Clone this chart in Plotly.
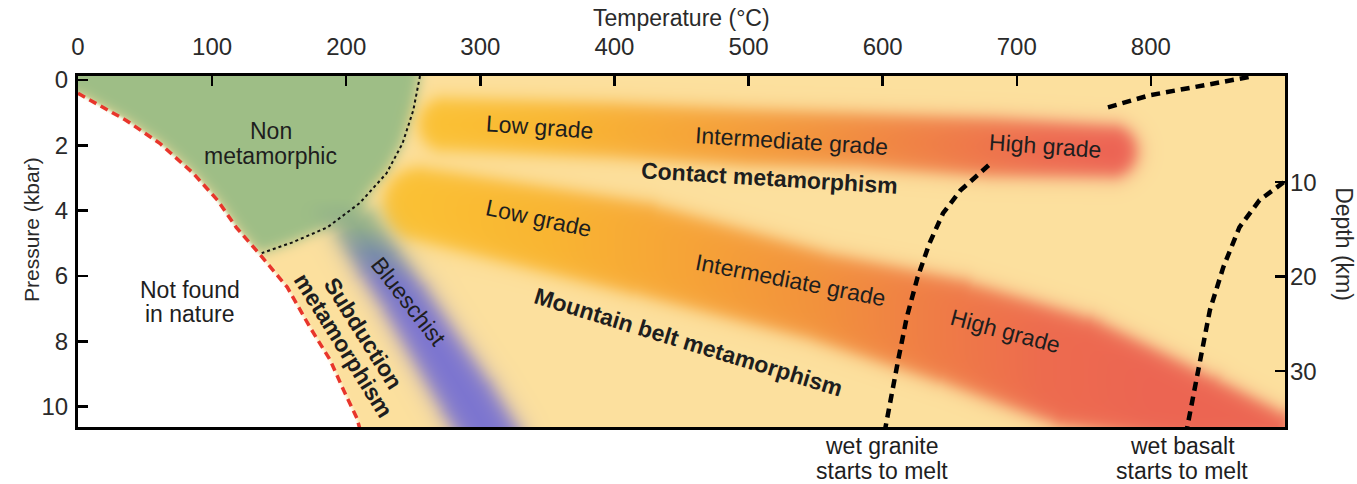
import base64
import struct
import zlib

import numpy as np
import plotly.graph_objects as go

# ------------------------------------------------------------------ data ----
T_MIN, T_MAX = 0, 900            # temperature axis (°C)
P_TOP, P_BOTTOM = -0.12, 10.62   # pressure axis (kbar), drawn downwards
temp_ticks = [0, 100, 200, 300, 400, 500, 600, 700, 800]
pressure_ticks = [0, 2, 4, 6, 8, 10]
depth_ticks = [10, 20, 30]
km_per_kbar = 3.46
depth_at_zero_kbar = -0.83

# boundary of the "not found in nature" field (red dashed)
limit_T = [0, 9, 36, 61, 86, 104, 118, 136, 156, 173, 188, 198, 208, 210]
limit_P = [0.41, 0.62, 1.24, 1.94, 2.86, 3.68, 4.51, 5.36, 6.34, 7.57, 8.57, 9.49, 10.35, 10.65]

# boundary of the non-metamorphic field (black dotted)
nonmeta_T = [255, 250, 242, 230, 210, 186, 160, 137]
nonmeta_P = [-0.12, 0.93, 1.94, 2.86, 3.77, 4.51, 4.97, 5.30]

# wet granite / wet basalt solidus and upper-right melting curve
granite_T = [679, 658, 645, 635, 626, 618, 612, 606, 602]
granite_P = [2.61, 3.38, 4.08, 4.99, 6.04, 7.26, 8.48, 9.71, 10.65]
basalt_T = [899, 881, 866, 854, 844, 837, 831, 827]
basalt_P = [3.13, 3.68, 4.51, 5.73, 7.04, 8.48, 9.71, 10.65]
upper_T = [768, 799, 831, 876]
upper_P = [0.84, 0.47, 0.23, -0.11]

# metamorphic facies bands (centre line + half thickness)
contact_T = [274, 399, 499, 583, 682, 770]
contact_P = [1.36, 1.54, 1.76, 1.85, 2.06, 2.18]
contact_halfwidth_kbar = [0.80, 0.83, 0.86, 0.83, 0.89, 0.80]

mountain_T = [255, 419, 553, 650, 744, 837, 893]
mountain_P = [3.80, 5.15, 6.62, 7.66, 8.94, 10.10, 10.56]
mountain_halfwidth_kbar = [1.13, 1.44, 1.38, 1.65, 1.80, 1.13, 0.46]

blueschist_T = [192, 209, 225, 244, 264, 290, 309]
blueschist_P = [3.68, 4.54, 5.58, 6.74, 8.05, 9.74, 11.02]
blueschist_halfwidth_C = [19.4, 19.4, 20.1, 20.9, 22.4, 24.6, 24.6]

# labels inside the diagram
label_text = ["Non", "metamorphic", "Not found", "in nature",
              "Subduction", "metamorphism", "Blueschist",
              "Low grade", "Intermediate grade", "High grade", "Contact metamorphism",
              "Low grade", "Intermediate grade", "High grade", "Mountain belt metamorphism"]
label_T = [143.9, 143.9, 83.5, 83.5,
           212.5, 197.6, 246.1,
           343.8, 531.7, 721.1, 515.3,
           343.0, 530.9, 691.3, 454.9]
label_P = [1.57, 2.34, 6.43, 7.17,
           7.75, 8.12, 6.77,
           1.45, 1.88, 2.03, 3.01,
           4.23, 6.13, 7.69, 8.03]

# labels under the diagram, at the foot of the melting curves
melt_text = ["wet granite", "starts to melt", "wet basalt", "starts to melt"]
melt_T = [599.6, 599.6, 823.3, 823.3]

# ----------------------------------------------------------------- style ----
label_angle = [0, 0, 0, 0, 58, 58, 52, 4, 3.5, 4, 3.5, 12, 11, 15, 17]
label_bold = [False, False, False, False, True, True, False, False, False, False, True,
              False, False, False, True]
melt_row_px = [19, 44, 19, 44]   # pixels below the bottom frame

FONT = "Liberation Sans, Arial, sans-serif"
BG = (252, 224, 158)
GREEN = (158, 190, 134)
WHITE = (255, 255, 255)
contact_stops_T = [270, 350, 450, 550, 650, 720, 780]
contact_stops_c = [(250, 192, 52), (249, 183, 50), (246, 166, 56), (242, 147, 62),
                   (239, 124, 72), (237, 107, 80), (236, 98, 84)]
mountain_stops_T = [250, 350, 450, 550, 640, 720, 800]
mountain_stops_c = [(250, 192, 52), (249, 181, 50), (246, 164, 55), (242, 146, 60),
                    (239, 124, 70), (237, 107, 78), (236, 101, 82)]
blue_stops_P = [3.6, 4.5, 5.3, 6.2, 7.5]
blue_stops_c = [(158, 190, 134), (142, 172, 138), (120, 140, 168), (118, 118, 200),
                (123, 116, 208)]

M_L, M_R, M_T, M_B = 78, 72, 76, 57
FIG_W, FIG_H = 1357, 484

# ------------------------------------------------ background raster field ----
W = FIG_W - M_L - M_R
H = FIG_H - M_T - M_B
sx = W / (T_MAX - T_MIN)
sy = H / (P_BOTTOM - P_TOP)
X, Y = np.meshgrid(np.arange(W) + 0.5, np.arange(H) + 0.5)
Tg = T_MIN + X / sx
Pg = P_TOP + Y / sy


def gblur(a, s):
    r = int(3 * s) + 1
    k = np.exp(-0.5 * (np.arange(-r, r + 1) / s) ** 2)
    k /= k.sum()
    for axis in (0, 1):
        pad = [(0, 0), (0, 0)]
        pad[axis] = (r, r)
        ap = np.pad(a, pad, mode="edge")
        out = np.zeros_like(a)
        n = a.shape[axis]
        for i in range(2 * r + 1):
            sl = [slice(None), slice(None)]
            sl[axis] = slice(i, i + n)
            out += k[i] * ap[tuple(sl)]
        a = out
    return a


def colour_field(v, stops_v, stops_c):
    return np.stack([np.interp(v, stops_v, [c[k] for c in stops_c]) for k in range(3)], -1)


def band_alpha(bT, bP, hw, mode, soft=5.0):
    xs = (np.asarray(bT, float) - T_MIN) * sx
    ys = (np.asarray(bP, float) - P_TOP) * sy
    best = np.full(X.shape, 1e6)
    for i in range(len(xs) - 1):
        ax, ay, bx, by = xs[i], ys[i], xs[i + 1], ys[i + 1]
        dx, dy = bx - ax, by - ay
        L = np.hypot(dx, dy)
        if mode == "v":
            f = abs(dx) / L
            h0, h1 = hw[i] * sy * f, hw[i + 1] * sy * f
        else:
            f = abs(dy) / L
            h0, h1 = hw[i] * sx * f, hw[i + 1] * sx * f
        t = np.clip(((X - ax) * dx + (Y - ay) * dy) / (L * L), 0, 1)
        d = np.hypot(X - (ax + t * dx), Y - (ay + t * dy))
        best = np.minimum(best, d - (h0 + t * (h1 - h0)))
    return 1.0 / (1.0 + np.exp(np.clip(best / soft, -60, 60)))


white_hard = Tg < np.interp(Pg, limit_P, limit_T)
green_hard = (Tg < np.interp(Pg, nonmeta_P, nonmeta_T, right=-1)) & ~white_hard

img = np.ones((H, W, 3)) * np.array(BG, float)


def mix(img, col, a):
    a = a[..., None]
    return img * (1 - a) + np.asarray(col, float) * a


img = mix(img, GREEN, gblur(green_hard.astype(float), 6.0))
img = mix(img, colour_field(Tg, contact_stops_T, contact_stops_c),
          band_alpha(contact_T, contact_P, contact_halfwidth_kbar, "v"))
img = mix(img, colour_field(Tg, mountain_stops_T, mountain_stops_c),
          band_alpha(mountain_T, mountain_P, mountain_halfwidth_kbar, "v"))
img = mix(img, colour_field(Pg, blue_stops_P, blue_stops_c),
          band_alpha(blueschist_T, blueschist_P, blueschist_halfwidth_C, "h", soft=6.0))
img = mix(img, WHITE, gblur(white_hard.astype(float), 1.5))


def png_uri(rgb):
    a = np.clip(np.round(rgb), 0, 255).astype(np.uint8)
    h, w, _ = a.shape
    f = a.copy()
    f[:, 1:, :] = ((a[:, 1:, :].astype(np.int16) - a[:, :-1, :].astype(np.int16)) % 256).astype(np.uint8)
    raw = np.concatenate([np.ones((h, 1), np.uint8), f.reshape(h, w * 3)], axis=1).tobytes()

    def chunk(tag, data):
        c = struct.pack(">I", len(data)) + tag + data
        return c + struct.pack(">I", zlib.crc32(tag + data) & 0xFFFFFFFF)

    png = (b"\x89PNG\r\n\x1a\n"
           + chunk(b"IHDR", struct.pack(">IIBBBBB", w, h, 8, 2, 0, 0, 0))
           + chunk(b"IDAT", zlib.compress(raw, 9))
           + chunk(b"IEND", b""))
    return "data:image/png;base64," + base64.b64encode(png).decode()


# ---------------------------------------------------------------- figure ----
fig = go.Figure()

fig.add_trace(go.Scatter(x=limit_T, y=limit_P, mode="lines",
                         line=dict(color="#E8352B", width=3.5, dash="8px,5px"),
                         hoverinfo="skip", showlegend=False))
fig.add_trace(go.Scatter(x=nonmeta_T, y=nonmeta_P, mode="lines",
                         line=dict(color="#111111", width=2, dash="3px,3px"),
                         hoverinfo="skip", showlegend=False))
for cx, cy in ((granite_T, granite_P), (basalt_T, basalt_P), (upper_T, upper_P)):
    fig.add_trace(go.Scatter(x=cx, y=cy, mode="lines",
                             line=dict(color="#000000", width=4.5, dash="9px,6px"),
                             hoverinfo="skip", showlegend=False))
# depth axis carrier
fig.add_trace(go.Scatter(x=[None], y=[None], yaxis="y2", mode="lines",
                         hoverinfo="skip", showlegend=False))

for txt, t, p, ang, bold in zip(label_text, label_T, label_P, label_angle, label_bold):
    fig.add_annotation(x=t, y=p, xref="x", yref="y", showarrow=False,
                       text=f"<b>{txt}</b>" if bold else txt, textangle=ang,
                       xanchor="center", yanchor="middle",
                       font=dict(family=FONT, size=23, color="#1e1e1e"))

for txt, t, dy in zip(melt_text, melt_T, melt_row_px):
    fig.add_annotation(x=t, y=-dy / H, xref="x", yref="paper", showarrow=False,
                       text=txt, xanchor="center", yanchor="middle",
                       font=dict(family=FONT, size=23, color="#1e1e1e"))

fig.add_annotation(x=0.5, y=(H + 58) / H, xref="paper", yref="paper", showarrow=False,
                   text="Temperature (°C)", xanchor="center", yanchor="middle",
                   font=dict(family=FONT, size=23, color="#2a2a2a"))
fig.add_annotation(x=-46 / W, y=(H - 154) / H, xref="paper", yref="paper", showarrow=False,
                   text="Pressure (kbar)", textangle=-90, xanchor="center", yanchor="middle",
                   font=dict(family=FONT, size=21, color="#2a2a2a"))
fig.add_annotation(x=1 + 59 / W, y=0.521, xref="paper", yref="paper", showarrow=False,
                   text="Depth (km)", textangle=90, xanchor="center", yanchor="middle",
                   font=dict(family=FONT, size=23, color="#2a2a2a"))

axis_common = dict(showgrid=False, zeroline=False, ticks="inside", ticklen=10, tickwidth=2.5,
                   tickcolor="#000000",
                   tickfont=dict(family=FONT, size=24, color="#2a2a2a"))

fig.update_layout(
    width=FIG_W, height=FIG_H, autosize=False,
    margin=dict(l=M_L, r=M_R, t=M_T, b=M_B, pad=0),
    paper_bgcolor="white", plot_bgcolor="rgb(%d,%d,%d)" % BG,
    showlegend=False,
    xaxis=dict(range=[T_MIN, T_MAX], side="top", tickvals=temp_ticks,
               showline=True, linecolor="#000000", linewidth=3, mirror=True,
               ticklabelstandoff=8, **axis_common),
    yaxis=dict(range=[P_BOTTOM, P_TOP], tickvals=pressure_ticks,
               showline=True, linecolor="#000000", linewidth=3, mirror=True,
               ticklabelstandoff=2, **axis_common),
    yaxis2=dict(overlaying="y", side="right", anchor="x",
                range=[depth_at_zero_kbar + P_BOTTOM * km_per_kbar,
                       depth_at_zero_kbar + P_TOP * km_per_kbar],
                tickvals=depth_ticks, showline=False, ticklabelstandoff=4, **axis_common),
    images=[dict(source=png_uri(img), xref="x", yref="y", x=T_MIN, y=P_TOP,
                 sizex=T_MAX - T_MIN, sizey=P_BOTTOM - P_TOP,
                 xanchor="left", yanchor="top", sizing="stretch", layer="below")],
)

fig.write_html("out.html", config={"displayModeBar": False, "staticPlot": True},
               post_script="document.body.style.margin='0px';document.body.style.overflow='hidden';")
